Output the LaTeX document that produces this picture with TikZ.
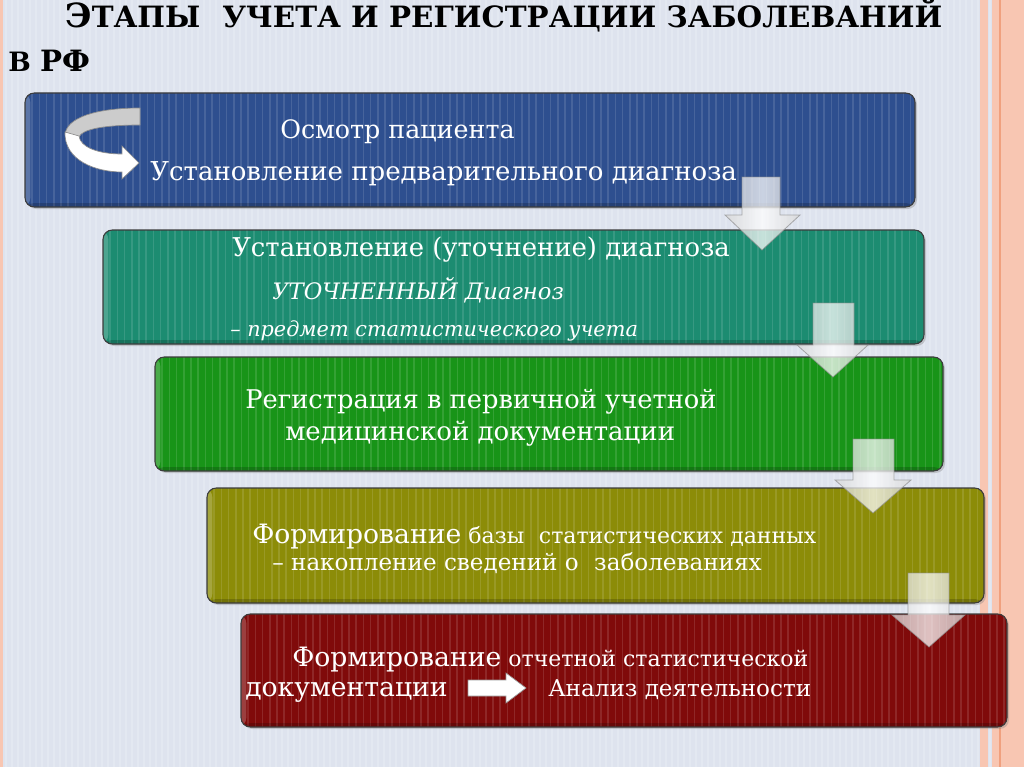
\documentclass[tikz,border=0pt]{standalone}
\usepackage{fontspec}
\setmainfont{DejaVu Serif}
\newfontfamily\titlef{DejaVu Serif}
\usetikzlibrary{shadows}
\definecolor{bg}{HTML}{DEE3EE}
\definecolor{pinkb}{HTML}{F8C6B2}
\definecolor{orl}{HTML}{F0A07E}
\definecolor{cblue}{HTML}{2E4F8F}
\definecolor{cteal}{HTML}{1C8C71}
\definecolor{cgreen}{HTML}{189418}
\definecolor{colive}{HTML}{8C8C08}
\definecolor{cred}{HTML}{800A0A}
\definecolor{edge}{HTML}{3C3C3C}
\tikzset{
  box/.style={draw=edge, line width=0.8pt, rounded corners=7pt, inner sep=0pt,
    drop shadow={opacity=0.35, shadow xshift=1.5pt, shadow yshift=-1.5pt},
    path picture={
      \foreach \i in {1,...,125}{\draw[white,opacity=0.12,line width=1.1pt]
        ([xshift=\i*5.4pt]path picture bounding box.south west) --
        ([xshift=\i*5.4pt]path picture bounding box.north west);}
      \fill[white,opacity=0.22] (path picture bounding box.south west) rectangle
        ([xshift=4pt]path picture bounding box.north west);
      \fill[black,opacity=0.18] (path picture bounding box.south west) rectangle
        ([yshift=3pt]path picture bounding box.south east);
    }},
  txt/.style={text=white, inner sep=0pt, anchor=base west},
  blockarrow/.style={draw=black!45, line width=0.6pt, draw opacity=0.7,
    left color=black!16, right color=black!16, middle color=white, fill opacity=0.75},
  titletxt/.style={inner sep=0pt, anchor=base west, text=black},
}
\newcommand\fs[1]{\fontsize{#1}{#1}\selectfont}
\begin{document}
\begin{tikzpicture}[x=0.75pt,y=-0.75pt]
\useasboundingbox (0,0) rectangle (1024,767);
% background
\fill[bg] (0,0) rectangle (1024,767);
\foreach \i in {0,...,170}{\draw[white,opacity=0.18,line width=0.8pt] (\i*6,0) -- (\i*6,767);}
\fill[pinkb] (0,0) rectangle (3,767);
\fill[pinkb] (980,0) rectangle (988,767);
\fill[pinkb] (992,0) rectangle (1024,767);
\draw[orl,line width=1pt] (1000,0) -- (1000,767);
% title
\node[titletxt] (title1) at (65,28) {\titlef\bfseries\fs{25pt}Э\fs{22pt}ТАПЫ\hspace{0.4em} УЧЕТА И РЕГИСТРАЦИИ ЗАБОЛЕВАНИЙ};
\node[titletxt] (title2) at (8,72) {\titlef\bfseries\fs{20pt}В \fs{22pt}РФ};
% boxes
\node[box, fill=cblue,  minimum width=667.5pt, minimum height=85.5pt] (b1) at (470,150) {};
\node[box, fill=cteal,  minimum width=615.75pt, minimum height=85.5pt] (b2) at (513.5,287) {};
\node[box, fill=cgreen, minimum width=591pt, minimum height=85.5pt] (b3) at (549,414) {};
\node[box, fill=colive, minimum width=582.75pt, minimum height=86.25pt] (b4) at (595.5,545.5) {};
\node[box, fill=cred,   minimum width=574.5pt, minimum height=84.75pt] (b5) at (624,670.5) {};
% curved arrow in box 1
\filldraw[fill=black!20, draw=black!45, line width=0.5pt]
  (140,108) .. controls (95,108) and (66,118) .. (65,135) -- (79,137)
  .. controls (82,129) and (105,125) .. (140,125) -- cycle;
\filldraw[fill=white, draw=black!45, line width=0.5pt]
  (65,132) .. controls (64,160) and (95,172) .. (122,172) -- (122,179) -- (139,163)
  -- (122,146) -- (122,154) .. controls (98,154) and (80,147) .. (79,136) -- cycle;
% texts
\node[txt] (t1a) at (280,138) {\fs{19pt}Осмотр пациента};
\node[txt] (t1b) at (150,180) {\fs{19.5pt}Установление предварительного диагноза};
\node[txt] (t2a) at (232,256) {\fs{19.4pt}Установление (уточнение) диагноза};
\node[txt] (t2b) at (272,299) {\fs{17pt}\itshape УТОЧНЕННЫЙ Диагноз};
\node[txt] (t2c) at (230,336) {\fs{15.6pt}\itshape – предмет статистического учета};
\node[txt] (t3a) at (245,408) {\fs{19.3pt}Регистрация в первичной учетной};
\node[txt] (t3b) at (285,440) {\fs{19.5pt}медицинской документации};
\node[txt] (t4a) at (252,543) {\fs{20pt}Формирование\fs{16.5pt} базы\hspace{0.35em} статистических данных};
\node[txt] (t4b) at (272,570) {\fs{17.3pt}– накопление сведений о\hspace{0.35em} заболеваниях};
\node[txt] (t5a) at (292,666) {\fs{20pt}Формирование\fs{16.5pt} отчетной статистической};
\node[txt] (t5b) at (245,696) {\fs{20pt}документации};
\node[txt] (t5c) at (548,696) {\fs{17.3pt}Анализ деятельности};
% arrow inside box 5
\filldraw[fill=white, draw=black!40, line width=0.5pt]
  (t5b.base east) ++(20,-16) coordinate (ia) -- ++(38,0) -- ++(0,-7) -- ++(20,15) -- ++(-20,15) -- ++(0,-7) -- ++(-38,0) -- cycle;
% block arrows between boxes
\path[blockarrow] (742,177) -- (780,177) -- (780,215) -- (800,215) -- (762,250) -- (725,215) -- (742,215) -- cycle;
\path[blockarrow] (813,303) -- (854,303) -- (854,345) -- (868,345) -- (833,377) -- (797,345) -- (813,345) -- cycle;
\path[blockarrow] (853,439) -- (894,439) -- (894,480) -- (911,480) -- (873,513) -- (835,480) -- (853,480) -- cycle;
\path[blockarrow] (908,573) -- (949,573) -- (949,615) -- (965,615) -- (929,647) -- (892,615) -- (908,615) -- cycle;
\end{tikzpicture}
\end{document}
